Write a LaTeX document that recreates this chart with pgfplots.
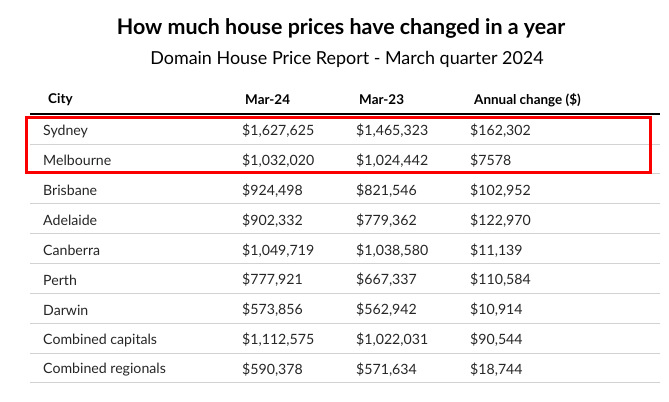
\documentclass[border=0pt]{standalone}
\usepackage{pgfplots}
\pgfplotsset{compat=1.18}
\usepackage{pgfplotstable}
\usepackage{fontspec}
\setmainfont{Lato}

\pgfplotstableread[col sep=semicolon]{
ypos;city;mar24;mar23;change
131;Sydney;1627625;1465323;162302
160.5;Melbourne;1032020;1024442;7578
190.5;Brisbane;924498;821546;102952
220.5;Adelaide;902332;779362;122970
250.5;Canberra;1049719;1038580;11139
280;Perth;777921;667337;110584
310;Darwin;573856;562942;10914
340;Combined capitals;1112575;1022031;90544
369.5;Combined regionals;590378;571634;18744
}\datatable

\definecolor{rule}{RGB}{210,210,210}
\definecolor{boxred}{RGB}{250,0,0}

\begin{document}
\begin{tikzpicture}
\begin{axis}[
  x=1bp, y=1bp,
  xmin=0, xmax=669, ymin=0, ymax=401,
  y dir=reverse,
  axis lines=none,
  clip=false,
  /pgf/number format/.cd, fixed, precision=0, 1000 sep={,},
    min exponent for 1000 sep=4, assume math mode=true,
  /pgfplots/.cd,
  nodes near coords style={anchor=west, inner sep=0pt, font=\fontsize{14.2}{16}\selectfont, text=black!85},
]
\path (axis cs:0,0) rectangle (axis cs:669,401);

% title and subtitle
\node[font=\fontsize{21.5}{24}\selectfont\bfseries] at (axis cs:341,28) {How much house prices have changed in a year};
\node[font=\fontsize{18}{20}\selectfont] at (axis cs:347,59.5) {Domain House Price Report - March quarter 2024};

% header
\node[anchor=west, inner sep=0pt, font=\fontsize{13.5}{16}\selectfont\bfseries] at (axis cs:48,100) {City};
\node[anchor=west, inner sep=0pt, font=\fontsize{13.5}{16}\selectfont\bfseries] at (axis cs:245,100) {Mar-24};
\node[anchor=west, inner sep=0pt, font=\fontsize{13.5}{16}\selectfont\bfseries] at (axis cs:359,100) {Mar-23};
\node[anchor=west, inner sep=0pt, font=\fontsize{13.5}{16}\selectfont\bfseries] at (axis cs:474,100) {Annual change (\$)};

% rules
\draw[black, line width=2bp] (axis cs:30,114) -- (axis cs:660,114);
\pgfplotsinvokeforeach{144,173.5,203.5,233.5,263.5,293,323,353,382.5}{
  \draw[rule, line width=1bp] (axis cs:30,#1) -- (axis cs:660,#1);
}

% columns
\addplot[only marks, mark=none, point meta=explicit symbolic, nodes near coords]
  table[x expr=43, y=ypos, meta=city] {\datatable};
\addplot[only marks, mark=none, point meta=explicit symbolic,
  nodes near coords={\$\pgfmathprintnumber{\pgfplotspointmeta}}]
  table[x expr=242, y=ypos, meta=mar24] {\datatable};
\addplot[only marks, mark=none, point meta=explicit symbolic,
  nodes near coords={\$\pgfmathprintnumber{\pgfplotspointmeta}}]
  table[x expr=356, y=ypos, meta=mar23] {\datatable};
\addplot[only marks, mark=none, point meta=explicit symbolic,
  nodes near coords={\$\pgfmathprintnumber{\pgfplotspointmeta}}]
  table[x expr=470, y=ypos, meta=change] {\datatable};

% highlight box
\draw[boxred, line width=3bp] (axis cs:26.5,117.5) rectangle (axis cs:650.5,172.5);
\end{axis}
\end{tikzpicture}
\end{document}
